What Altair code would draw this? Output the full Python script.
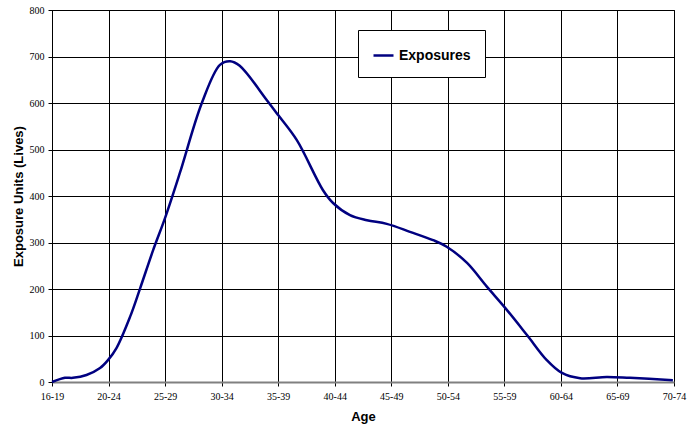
import altair as alt
import pandas as pd

age_groups = ["16-19", "20-24", "25-29", "30-34", "35-39", "40-44",
              "45-49", "50-54", "55-59", "60-64", "65-69", "70-74"]

# position along the age-group axis (0 = 16-19, 11 = 70-74)
position = [0, 0.23, 0.37, 0.61, 0.85, 0.99, 1.14, 1.38, 1.56, 1.79, 2.0,
            2.26, 2.65, 2.97, 3.15, 3.32, 3.80, 4.0, 4.33, 4.79, 4.97, 5.27,
            5.57, 5.92, 6.33, 6.74, 6.98, 7.34, 7.69, 8.01, 8.40, 8.75, 9.01,
            9.34, 9.81, 10.22, 10.98]
exposures = [0, 9, 9, 15, 30, 47, 73, 140, 202, 284, 353,
             449, 600, 682, 690, 680, 606, 574, 520, 413, 385, 359,
             348, 340, 323, 305, 291, 256, 205, 160, 101, 47, 20,
             8, 11, 9, 4]

df = pd.DataFrame({"pos": position, "value": exposures,
                   "series": ["Exposures"] * len(position)})

label_array = "[" + ",".join("'" + a + "'" for a in age_groups) + "]"

chart = alt.Chart(df).mark_line(
    interpolate="catmull-rom", strokeWidth=2.5
).encode(
    x=alt.X("pos:Q",
            scale=alt.Scale(domain=[0, len(age_groups) - 1], nice=False),
            axis=alt.Axis(values=list(range(len(age_groups))),
                          labelExpr=label_array + "[datum.value]",
                          title="Age", grid=True, tickSize=4,
                          labelFlush=False, labelOverlap=False,
                          domainColor="#808080", domainWidth=2,
                          labelPadding=5, titlePadding=9)),
    y=alt.Y("value:Q",
            scale=alt.Scale(domain=[0, 800], nice=False),
            axis=alt.Axis(values=list(range(0, 801, 100)),
                          title="Exposure Units (Lives)", grid=True,
                          tickSize=4, labelPadding=4, titlePadding=4,
                          labelFlush=False,
                          domainColor="black")),
    color=alt.Color("series:N",
                    scale=alt.Scale(range=["#000080"]),
                    legend=alt.Legend(title=None, orient="none",
                                      legendX=306, legendY=20,
                                      symbolType="stroke", symbolSize=400,
                                      symbolStrokeWidth=2.5,
                                      labelFont="Liberation Sans",
                                      labelFontWeight="bold",
                                      labelFontSize=14, labelColor="black",
                                      strokeColor="black", fillColor="white",
                                      padding=14))
).properties(
    width=622, height=372,
    background="white",
    autosize=alt.AutoSizeParams(type="none"),
    padding={"left": 52, "top": 10, "right": 13, "bottom": 51}
).configure_axis(
    labelFont="Liberation Serif", labelFontSize=10, labelColor="black",
    titleFont="Liberation Sans", titleFontSize=13, titleFontWeight="bold",
    titleColor="black", gridColor="black", gridWidth=1, gridOpacity=1,
    tickColor="black"
).configure_view(
    stroke="black", strokeWidth=1
)

chart.save("out.html", embed_options={"renderer": "svg", "actions": False})
